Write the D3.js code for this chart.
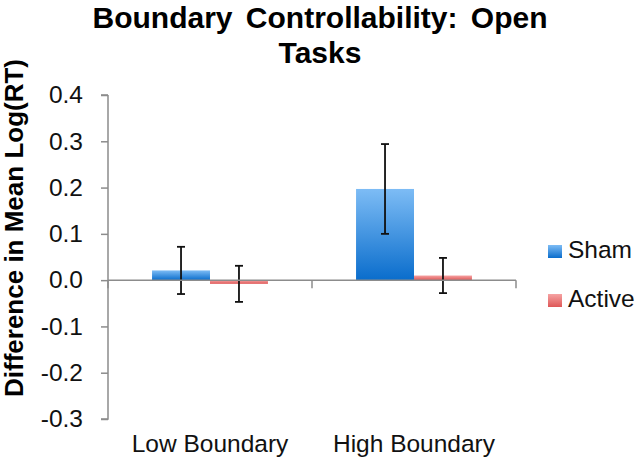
<!DOCTYPE html>
<html>
<head>
<meta charset="utf-8">
<script src="https://cdn.jsdelivr.net/npm/d3@7"></script>
<style>
  body { margin: 0; background: #fff; }
  svg { display: block; font-family: "Liberation Sans", Arial, sans-serif; }
</style>
</head>
<body>
<svg id="chart" width="640" height="460"></svg>
<script>
// ---- data ----
const categories = ["Low Boundary", "High Boundary"];
const seriesNames = ["Sham", "Active"];
const shamValues = [0.021, 0.197];
const shamErrors = [0.051, 0.097];
const activeValues = [-0.008, 0.010];
const activeErrors = [0.039, 0.038];
const yTicks = [0.4, 0.3, 0.2, 0.1, 0.0, -0.1, -0.2, -0.3];
const titleLines = ["Boundary Controllability: Open", "Tasks"];
const yLabel = "Difference in Mean Log(RT)";

const seriesValues = { Sham: shamValues, Active: activeValues };
const seriesErrors = { Sham: shamErrors, Active: activeErrors };

const svg = d3.select("#chart");

const x0 = d3.scaleBand().domain(categories).range([108, 516]).paddingInner(0).paddingOuter(0);
const x1 = d3.scaleBand().domain(seriesNames).range([0, x0.bandwidth()]).paddingInner(0).paddingOuter(0.76);
const y = d3.scaleLinear().domain([-0.3, 0.4]).range([419, 95]);

// gradients
const defs = svg.append("defs");
const grads = {
  Sham: ["#7dbcf5", "#0a6dcc"],
  Active: ["#f6a3a3", "#de5757"]
};
Object.entries(grads).forEach(([k, c]) => {
  const g = defs.append("linearGradient").attr("id", "g" + k)
    .attr("x1", 0).attr("y1", 0).attr("x2", 0).attr("y2", 1);
  g.append("stop").attr("offset", "0%").attr("stop-color", c[0]);
  g.append("stop").attr("offset", "100%").attr("stop-color", c[1]);
});

// title
svg.append("text")
  .attr("x", 320).attr("text-anchor", "middle")
  .attr("font-weight", "bold").attr("font-size", 30).attr("fill", "#000")
  .attr("word-spacing", 5)
  .selectAll("tspan").data(titleLines).join("tspan")
  .attr("x", 320).attr("y", (d, i) => 28 + i * 35).text(d => d);

// y axis label
svg.append("text")
  .attr("transform", "translate(23,228) rotate(-90)")
  .attr("text-anchor", "middle")
  .attr("font-weight", "bold").attr("font-size", 26).attr("fill", "#000")
  .text(yLabel);

// y axis
const yAxis = d3.axisLeft(y).tickValues(yTicks).tickSize(7).tickPadding(18)
  .tickFormat(d3.format(".1f"));
const gy = svg.append("g").attr("transform", "translate(108,0)").call(yAxis);
gy.select(".domain").attr("stroke", "#8c8c8c").attr("stroke-width", 1.5)
  .attr("d", `M0,${y(0.4)}H-7M0,${y(0.4)}V${y(-0.3)}H-7`);
gy.selectAll(".tick line").attr("stroke", "#8c8c8c").attr("stroke-width", 1.5);
gy.selectAll(".tick text").attr("font-size", 24.5).attr("fill", "#111")
  .attr("font-family", "Liberation Sans, Arial, sans-serif")
  .text(d => d3.format(".1f")(d).replace("−", "-"));

// bars
const groups = svg.append("g").selectAll("g").data(categories).join("g")
  .attr("transform", d => `translate(${x0(d)},0)`);

groups.selectAll("rect").data((d, i) => seriesNames.map(s => ({ s, v: seriesValues[s][i] })))
  .join("rect")
  .attr("x", d => x1(d.s))
  .attr("width", x1.bandwidth())
  .attr("y", d => y(Math.max(0, d.v)))
  .attr("height", d => Math.abs(y(d.v) - y(0)))
  .attr("fill", d => `url(#g${d.s})`);

// x axis (at zero)
const xAxisG = svg.append("g");
xAxisG.append("line").attr("x1", 108).attr("x2", 516).attr("y1", y(0)).attr("y2", y(0))
  .attr("stroke", "#8c8c8c").attr("stroke-width", 1.5);
const boundaries = categories.map(c => x0(c) + x0.bandwidth()).concat([x0(categories[0])]);
xAxisG.selectAll("line.tk").data(boundaries).join("line").attr("class", "tk")
  .attr("x1", d => d).attr("x2", d => d).attr("y1", y(0)).attr("y2", y(0) + 8)
  .attr("stroke", "#8c8c8c").attr("stroke-width", 1.5);

// error bars
const eb = groups.selectAll("g.err").data((d, i) => seriesNames.map(s => ({ s, v: seriesValues[s][i], e: seriesErrors[s][i] })))
  .join("g").attr("class", "err")
  .attr("stroke", "#111").attr("stroke-width", 1.8);
eb.append("line")
  .attr("x1", d => x1(d.s) + x1.bandwidth() / 2).attr("x2", d => x1(d.s) + x1.bandwidth() / 2)
  .attr("y1", d => y(d.v + d.e)).attr("y2", d => y(d.v - d.e));
eb.append("line")
  .attr("x1", d => x1(d.s) + x1.bandwidth() / 2 - 4).attr("x2", d => x1(d.s) + x1.bandwidth() / 2 + 4)
  .attr("y1", d => y(d.v + d.e)).attr("y2", d => y(d.v + d.e));
eb.append("line")
  .attr("x1", d => x1(d.s) + x1.bandwidth() / 2 - 4).attr("x2", d => x1(d.s) + x1.bandwidth() / 2 + 4)
  .attr("y1", d => y(d.v - d.e)).attr("y2", d => y(d.v - d.e));

// category labels
svg.append("g").selectAll("text").data(categories).join("text")
  .attr("x", d => x0(d) + x0.bandwidth() / 2).attr("y", 452)
  .attr("text-anchor", "middle").attr("font-size", 24.5).attr("fill", "#111")
  .text(d => d);

// legend
const leg = svg.append("g").selectAll("g").data(seriesNames).join("g")
  .attr("transform", (d, i) => `translate(548,${245 + i * 49})`);
leg.append("rect").attr("width", 14).attr("height", 13).attr("fill", d => `url(#g${d})`);
leg.append("text").attr("x", 20).attr("y", 12.5).attr("font-size", 24.5).attr("fill", "#111")
  .text(d => d);
</script>
</body>
</html>
